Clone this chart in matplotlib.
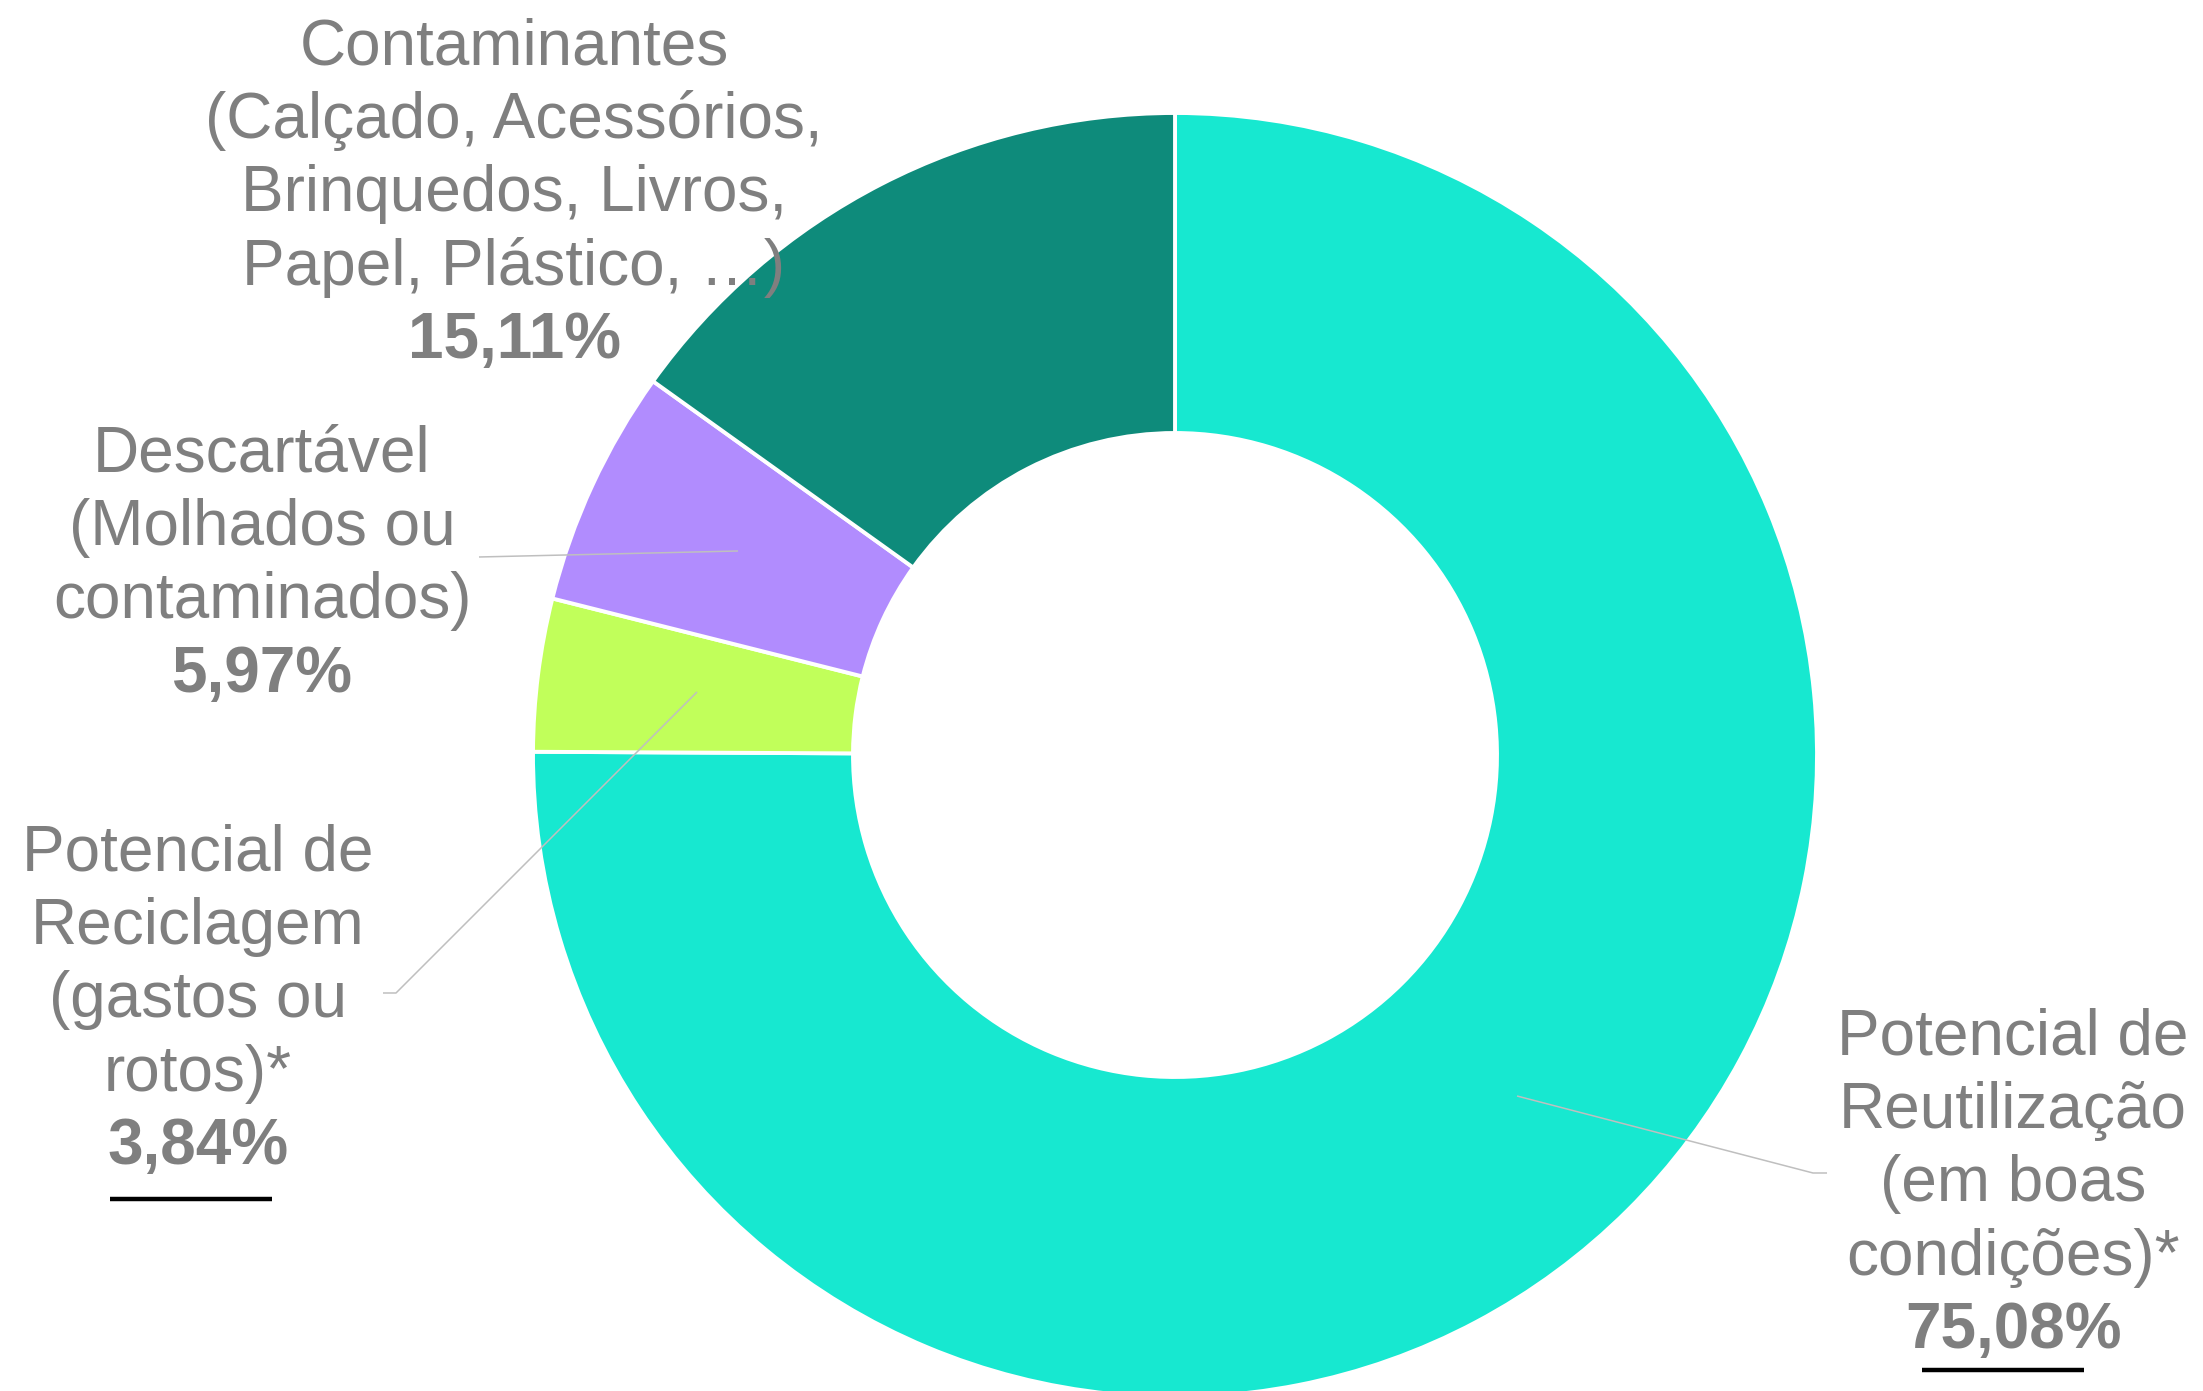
import matplotlib
matplotlib.use("Agg")
import matplotlib.pyplot as plt

plt.rcParams['font.family'] = ['Liberation Sans', 'DejaVu Sans']

# ---- data ----
categories = [
    "Potencial de\nReutilização\n(em boas\ncondições)*",
    "Potencial de\nReciclagem\n(gastos ou\nrotos)*",
    "Descartável\n(Molhados ou\ncontaminados)",
    "Contaminantes\n(Calçado, Acessórios,\nBrinquedos, Livros,\nPapel, Plástico, …)",
]
values = [75.08, 3.84, 5.97, 15.11]
colors = ["#17E8D0", "#C1FF5A", "#B18CFE", "#0E8B7B"]
underlined = [True, True, False, False]

# ---- layout (image pixel coordinates, y from top) ----
W, H = 2203, 1391
center_img = (1175, 755)
r_outer, r_inner = 642, 322
label_x = [2013, 198, 262, 514]
label_first_baseline = [1054, 870, 471, 64]
line_step = 73.5
leaders = [
    [(1517, 1096), (1813, 1173), (1827, 1173)],
    [(697, 692), (396, 993), (383, 993)],
    [(738, 551), (479, 557)],
    None,
]
underline_geom = [(1922, 2084, 1370), (110, 272, 1199), None, None]

fig = plt.figure(figsize=(W / 100 + 1e-4, H / 100 + 1e-4), dpi=100)
ax = fig.add_axes([0, 0, 1, 1])

def Y(y):
    return H - y

ax.pie(values, colors=colors, startangle=90, counterclock=False,
       radius=r_outer, center=(center_img[0], Y(center_img[1])),
       wedgeprops=dict(width=r_outer - r_inner, edgecolor='white', linewidth=2.8))

ax.set_xlim(0, W)
ax.set_ylim(0, H)
ax.set_aspect('equal')
ax.axis('off')

text_color = "#7F7F7F"
fs = 46
for i, (cat, v) in enumerate(zip(categories, values)):
    lines = cat.split("\n")
    x = label_x[i]
    yb = label_first_baseline[i]
    for k, ln in enumerate(lines):
        ax.text(x, Y(yb + k * line_step), ln, ha='center', va='baseline',
                fontsize=fs, color=text_color)
    pct = f"{v:.2f}%".replace('.', ',')
    ax.text(x, Y(yb + len(lines) * line_step), pct, ha='center', va='baseline',
            fontsize=fs, color=text_color, fontweight='bold')
    if leaders[i] is not None:
        xs = [p[0] for p in leaders[i]]
        ys = [Y(p[1]) for p in leaders[i]]
        ax.plot(xs, ys, color="#BFBFBF", linewidth=1.1, solid_capstyle='butt')
    if underlined[i] and underline_geom[i] is not None:
        x0, x1, yy = underline_geom[i]
        ax.plot([x0, x1], [Y(yy), Y(yy)], color='black', linewidth=3.2,
                solid_capstyle='butt')

fig.savefig("out.png", dpi=100)
